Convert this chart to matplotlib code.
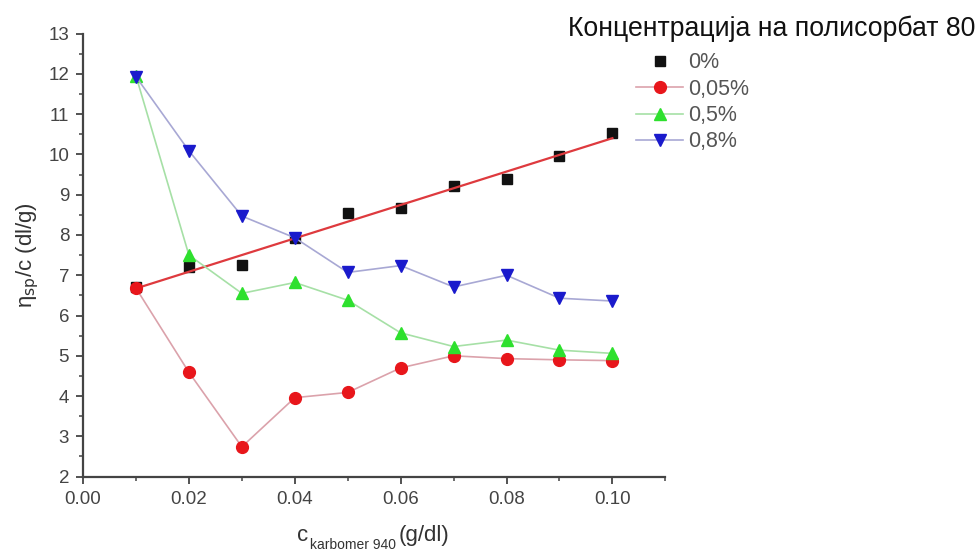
import numpy as np
import matplotlib
matplotlib.use("Agg")
import matplotlib.pyplot as plt
from matplotlib.ticker import MultipleLocator, FormatStrFormatter

plt.rcParams['font.family'] = ['Liberation Sans', 'DejaVu Sans']

# карбомер 940 концентрации (g/dl)
conc = [0.01, 0.02, 0.03, 0.04, 0.05, 0.06, 0.07, 0.08, 0.09, 0.10]

# редуциран вискозитет за секоја концентрација на полисорбат 80
visc_0 = [6.70, 7.20, 7.25, 7.93, 8.55, 8.66, 9.22, 9.38, 9.97, 10.52]
visc_005 = [6.68, 4.59, 2.74, 3.96, 4.09, 4.70, 5.00, 4.93, 4.90, 4.88]
visc_05 = [11.95, 7.50, 6.55, 6.82, 6.38, 5.57, 5.23, 5.39, 5.14, 5.06]
visc_08 = [11.93, 10.09, 8.47, 7.93, 7.07, 7.24, 6.71, 7.00, 6.43, 6.36]

labels = ['0%', '0,05%', '0,5%', '0,8%']
legend_title = 'Концентрација на полисорбат 80'

fig = plt.figure(figsize=(9.77, 5.51), dpi=100)
ax = fig.add_axes([0.085, 0.135, 0.596, 0.804])

x = np.array(conc)
h0, = ax.plot(x, visc_0, ls='none', marker='s', ms=7, color='#111111', zorder=3)

# линеарна регресија за 0%
k, b = np.polyfit(x, visc_0, 1)
ax.plot(x, k * x + b, color='#de3a3e', lw=1.6, zorder=4)

h1, = ax.plot(x, visc_005, color='#dba2ab', lw=1.2, marker='o', ms=8.5,
              mfc='#e8161b', mec='#e8161b', zorder=5)
h2, = ax.plot(x, visc_05, color='#a6e0a6', lw=1.2, marker='^', ms=8.5,
              mfc='#2ee02e', mec='#2ee02e', zorder=6)
h3, = ax.plot(x, visc_08, color='#a8a8d4', lw=1.2, marker='v', ms=8.5,
              mfc='#1a1acc', mec='#1a1acc', zorder=7)

ax.set_xlim(0, 0.11)
ax.set_ylim(2, 13)
ax.set_xticks(np.arange(0, 0.101, 0.02))
ax.xaxis.set_minor_locator(MultipleLocator(0.01))
ax.yaxis.set_major_locator(MultipleLocator(1))
ax.yaxis.set_minor_locator(MultipleLocator(0.5))
ax.xaxis.set_major_formatter(FormatStrFormatter('%.2f'))

for side in ('top', 'right'):
    ax.spines[side].set_visible(False)
for side in ('left', 'bottom'):
    ax.spines[side].set_color('#444444')
    ax.spines[side].set_linewidth(1.6)

ax.tick_params(which='major', direction='out', length=5, width=1.3,
               color='#444444', labelsize=13.5, labelcolor='#444444', pad=5)
ax.tick_params(which='minor', direction='out', length=3, width=1.1,
               color='#444444')

ax.set_ylabel(r'η$_{\mathrm{sp}}$/c (dl/g)', fontsize=16, color='#333333',
              labelpad=5)

# x-оска: мал индекс под „c“
t1 = fig.text(0.304, 0.018, 'c', fontsize=16, color='#333333', va='baseline')
t2 = ax.annotate('karbomer 940', xy=(1, 0), xycoords=t1, xytext=(1, -4),
                 textcoords='offset points', fontsize=10, color='#333333',
                 va='bottom')
ax.annotate('(g/dl)', xy=(1, 0), xycoords=t2, xytext=(2, 4),
            textcoords='offset points', fontsize=16, color='#333333',
            va='bottom')

fig.text(0.998, 0.947, legend_title, ha='right', va='center', fontsize=19.2,
         color='#111111')
fig.legend([h0, h1, h2, h3], labels, loc='upper left',
           bbox_to_anchor=(0.651, 0.905), frameon=False, fontsize=15.5,
           labelcolor='#555555', handlelength=2.2, handletextpad=0.2,
           labelspacing=0.25, borderpad=0, borderaxespad=0)

fig.savefig('out.png', dpi=100)
